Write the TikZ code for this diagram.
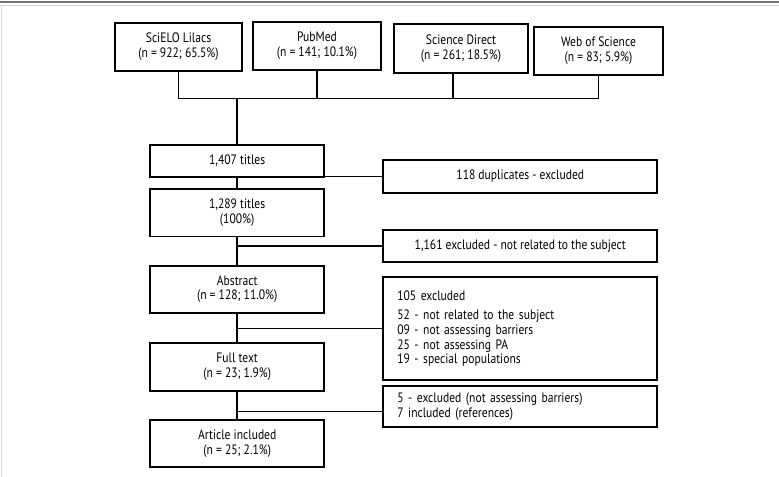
\documentclass[tikz,border=0pt]{standalone}
\usepackage{fontspec}
\setmainfont{PT Sans}[FakeStretch=0.85]
\newcommand{\flowfont}{\fontsize{9.7}{10.6}\selectfont}
\tikzset{
         flowbox/.style={draw,line width=1.3pt,minimum width=4.36cm,minimum height=1.18cm,inner sep=0pt,align=center,font=\flowfont},
         srcbox/.style={flowbox,minimum height=1.2cm},
         sidebox/.style={flowbox,minimum width=6.85cm,minimum height=0.81cm},
         listbox/.style={sidebox,align=left,text width=6.15cm,inner xsep=0.35cm},
         link/.style={line width=1.1pt}
        }

\begin{document}
\begin{tikzpicture}

\useasboundingbox(0,0)rectangle(19.475,11.925);
\draw[line width=1.4pt,black!55](0,11.875)--(19.475,11.875);
\draw[line width=0.5pt,black!20](0,11.8)--(19.475,11.8);
\draw[line width=0.6pt,black!15](0.03,11.8)--(0.03,0);

%databases
\node[srcbox,minimum width=3.175cm](scielo)at(4.4625,10.75){SciELO Lilacs\\(n = 922; 65.5\%)};
\node[srcbox,minimum width=3.2cm](pubmed)at(7.925,10.775){PubMed\\(n = 141; 10.1\%)};
\node[srcbox,minimum width=3.35cm,minimum height=1.23cm](scidir)at(11.525,10.71){Science Direct\\(n = 261; 18.5\%)};
\node[srcbox,minimum width=3.225cm](wos)at(14.9625,10.65){Web of Science\\(n = 83; 5.9\%)};
\coordinate(hub)at(5.93,9.4675);
\draw[link](scielo.south)|-(wos.south|-hub)--(wos.south);
\draw[link](pubmed.south)--(pubmed.south|-hub);
\draw[link]([xshift=-0.2cm]scidir.south)--([xshift=-0.2cm]scidir.south|-hub);

%screening
\node[flowbox,minimum height=0.81cm](titles)at(5.93,7.9){1,407 titles};
\node[flowbox](unique)at(5.93,6.604){1,289 titles\\(100\%)};
\node[flowbox](abstr)at(5.93,4.695){Abstract\\(n = 128; 11.0\%)};
\node[flowbox](fulltxt)at(5.93,2.75){Full text\\(n = 23; 1.9\%)};
\node[flowbox](incl)at(5.93,0.834){Article included\\(n = 25; 2.1\%)};
\draw[link](hub)--(titles);
\draw[link](titles)--(unique);
\draw[link](unique)--(abstr);
\draw[link](abstr)--(fulltxt);
\draw[link](fulltxt)--(incl);

%exclusions
\node[sidebox,minimum height=0.82cm](dup)at(13.0075,7.516){118 duplicates - excluded};
\node[sidebox](unrel)at(13.0075,5.779){1,161 excluded - not related to the subject};
\node[listbox,minimum height=2.58cm,font=\fontsize{9.7}{10.4}\selectfont](excl)at(13.0075,3.709){105 excluded\\[3.3pt]52 - not related to the subject\\09 - not assessing barriers\\25 - not assessing PA\\19 - special populations};
\node[listbox,minimum height=1.02cm](refs)at(13.0075,1.766){5 - excluded (not assessing barriers)\\7 included (references)};
\draw[link](dup.west)--(dup.west-|titles);
\draw[link](unrel.west)--(unrel.west-|unique);
\draw[link](excl.west)--(excl.west-|abstr);
\draw[link]([yshift=-0.13cm]refs.west)--([yshift=-0.13cm]refs.west-|incl);

\end{tikzpicture}
\end{document}
